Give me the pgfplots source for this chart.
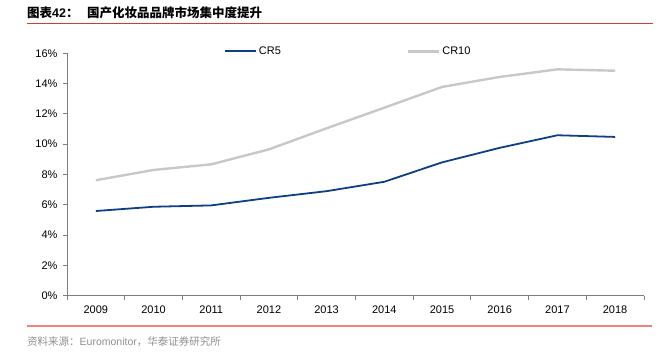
\documentclass[border=0pt]{standalone}
\usepackage{fontspec}
\setmainfont{Liberation Sans}
\newfontfamily\cjk{Noto Sans CJK SC}
\usepackage{pgfplots}
\pgfplotsset{compat=1.18}
\definecolor{crfive}{RGB}{14,63,134}
\definecolor{crten}{RGB}{200,200,200}
\definecolor{titlered}{RGB}{214,58,50}
\definecolor{srcred}{RGB}{240,132,122}
\definecolor{axgray}{RGB}{127,127,127}
\definecolor{srcgray}{RGB}{143,143,143}
\begin{document}
\begin{tikzpicture}
\path[use as bounding box] (0,0) rectangle (667pt,353pt);
\node[anchor=west,inner sep=0pt] at (27pt,340pt) {\fontsize{12.5}{14}\selectfont{\cjk\bfseries 图表}\textbf{42}{\cjk\bfseries ：}};
\node[anchor=west,inner sep=0pt] at (87pt,340pt) {\fontsize{12.5}{14}\selectfont\cjk\bfseries 国产化妆品品牌市场集中度提升};
\node[anchor=west,inner sep=0pt,text=srcgray] at (27pt,11.5pt) {\fontsize{10.5}{12}\selectfont{\cjk 资料来源：}Euromonitor{\cjk ，华泰证券研究所}};
\fill[titlered] (27pt,329pt) rectangle (652.7pt,330.4pt);
\fill[srcred] (27pt,26.4pt) rectangle (652pt,28.2pt);
\begin{axis}[
  at={(67pt,57.3pt)}, anchor=south west,
  width=577pt, height=242.4pt, scale only axis,
  xmin=2008.5, xmax=2018.5, ymin=0, ymax=16,
  axis x line*=bottom, axis y line*=left,
  axis line style={axgray,line width=0.8pt},
  xtick={2009,...,2018},
  xticklabels={2009,2010,2011,2012,2013,2014,2015,2016,2017,2018},
  minor xtick={2008.5,2009.5,...,2018.5},
  major x tick style={draw=none},
  minor x tick style={axgray,line width=0.8pt},
  minor tick length=4pt,
  ytick={0,2,...,16},
  yticklabel={\pgfmathprintnumber{\tick}\%},
  y tick style={axgray,line width=0.8pt},
  major tick length=4pt,
  tick align=outside,
  /pgf/number format/assume math mode=true,
  ticklabel style={font=\fontsize{11}{13}\selectfont, text=black},
  xticklabel style={yshift=-3pt},
  yticklabel style={xshift=-2pt},
  legend columns=2,
  legend style={at={(rel axis cs:0.272,1.008)}, anchor=west, draw=none, fill=none,
    inner sep=0pt, font=\fontsize{11}{13}\selectfont,
    /tikz/every even column/.style={column sep=124pt}},
  legend image code/.code={\draw[#1] (0pt,0pt) -- (31pt,0pt);},
  legend cell align=left,
]
\addplot[crfive, line width=1.8pt] coordinates {
(2009,5.59) (2010,5.87) (2011,5.96) (2012,6.46) (2013,6.90) (2014,7.52) (2015,8.80) (2016,9.76) (2017,10.59) (2018,10.48)};
\addlegendentry{CR5}
\addplot[crten, line width=2.4pt] coordinates {
(2009,7.62) (2010,8.30) (2011,8.67) (2012,9.66) (2013,11.05) (2014,12.41) (2015,13.78) (2016,14.44) (2017,14.94) (2018,14.85)};
\addlegendentry{CR10}
\end{axis}
\end{tikzpicture}
\end{document}
